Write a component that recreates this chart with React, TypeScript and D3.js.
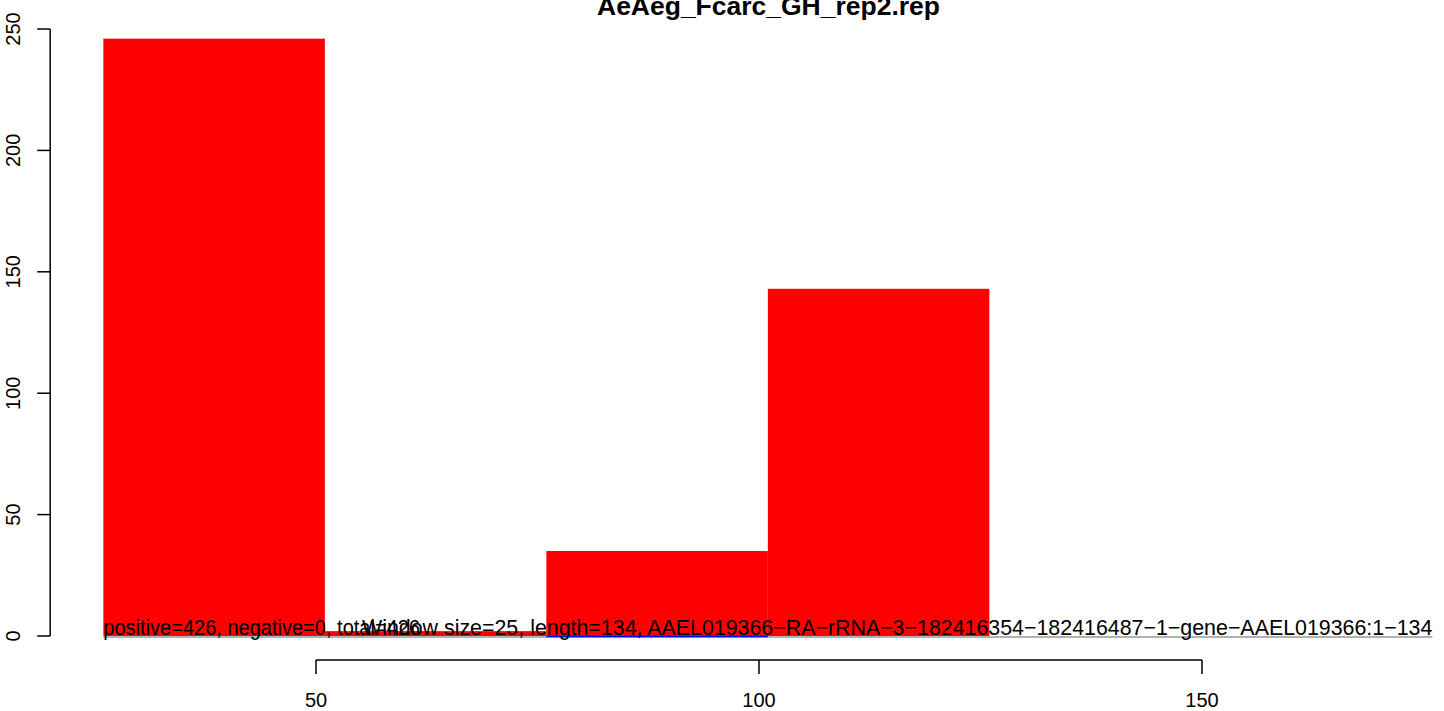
import React from 'react';
import * as d3 from 'd3';

// histogram bins (left edges) and counts
const binStarts = [26, 51, 76, 101];
const binWidth = 25;
const counts = [246, 2, 35, 143];
// bins where the negative strand line shows
const negativeBins = [76];

const xTicks = [50, 100, 150];
const yTicks = [0, 50, 100, 150, 200, 250];

const title = 'AeAeg_Fcarc_GH_rep2.rep';
const summaryText = 'positive=426, negative=0, total=426';
const infoText =
  'Window size=25, length=134, AAEL019366\u2212RA\u2212rRNA\u22123\u2212182416354\u2212182416487\u22121\u2212gene\u2212AAEL019366:1\u2212134';

const W = 1444;
const H = 711;
const font = '"Liberation Sans", Arial, Helvetica, sans-serif';

export default function App() {
  const x = d3.scaleLinear().domain([50, 150]).range([316, 1202]);
  const y = d3.scaleLinear().domain([0, 250]).range([636, 29]);

  const axisY = 660;
  const yAxisX = x(20);
  const x0 = x(binStarts[0]);
  const xEnd = x(176);

  return (
    <svg
      width={W}
      height={H}
      style={{ position: 'absolute', left: 0, top: 0, background: '#fff' }}
      fontFamily={font}
    >
      <text
        x={(597 + 940) / 2}
        y={15}
        textAnchor="middle"
        fontWeight="bold"
        fontSize={25}
        textLength={343}
        lengthAdjust="spacingAndGlyphs"
      >
        {title}
      </text>

      {/* bars */}
      {counts.map((c, i) => (
        <rect
          key={i}
          x={x(binStarts[i])}
          y={y(c)}
          width={x(binStarts[i] + binWidth) - x(binStarts[i])}
          height={y(0) - y(c)}
          fill="#ff0000"
        />
      ))}

      {/* baseline */}
      <line x1={x0} x2={xEnd} y1={y(0) + 1} y2={y(0) + 1} stroke="#999" strokeWidth={1.5} />
      {negativeBins.map((b) => (
        <line
          key={b}
          x1={x(b)}
          x2={x(b + binWidth)}
          y1={y(0) + 0.5}
          y2={y(0) + 0.5}
          stroke="#0000ff"
          strokeWidth={1.5}
        />
      ))}

      {/* y axis */}
      <line x1={yAxisX} x2={yAxisX} y1={y(0)} y2={y(250)} stroke="#000" strokeWidth={1.5} />
      {yTicks.map((t) => (
        <g key={t}>
          <line x1={yAxisX - 13} x2={yAxisX} y1={y(t)} y2={y(t)} stroke="#000" strokeWidth={1.5} />
          <text
            transform={`translate(19.5,${y(t)}) rotate(-90)`}
            textAnchor="middle"
            fontSize={20}
          >
            {t}
          </text>
        </g>
      ))}

      {/* x axis */}
      <line x1={x(50)} x2={x(150)} y1={axisY} y2={axisY} stroke="#000" strokeWidth={1.5} />
      {xTicks.map((t) => (
        <g key={t}>
          <line x1={x(t)} x2={x(t)} y1={axisY} y2={axisY + 14} stroke="#000" strokeWidth={1.5} />
          <text x={x(t)} y={707} textAnchor="middle" fontSize={20}>
            {t}
          </text>
        </g>
      ))}

      {/* bottom annotations */}
      <text
        x={x0}
        y={635}
        fontSize={22}
        textLength={420 - x0}
        lengthAdjust="spacingAndGlyphs"
      >
        {summaryText}
      </text>
      <text
        x={362}
        y={635}
        fontSize={22}
        textLength={xEnd - 362}
        lengthAdjust="spacingAndGlyphs"
      >
        {infoText}
      </text>
    </svg>
  );
}
